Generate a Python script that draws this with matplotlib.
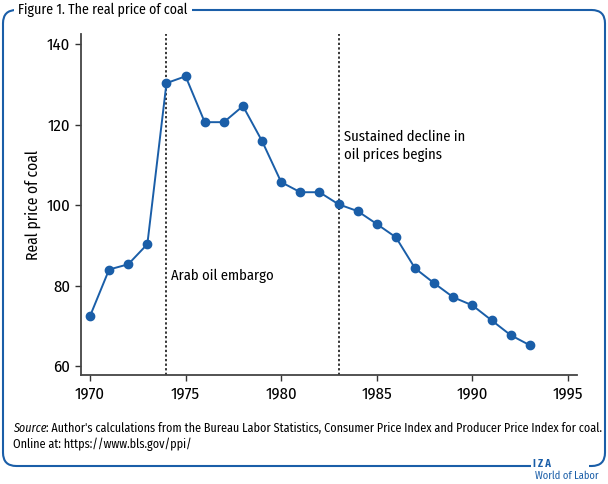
import matplotlib
matplotlib.use("Agg")
import matplotlib.pyplot as plt
from matplotlib.patches import FancyBboxPatch

years = list(range(1970, 1994))
price = [72.4, 84.0, 85.3, 90.3, 130.3, 132.0, 120.6, 120.6, 124.6, 115.9,
         105.7, 103.2, 103.2, 100.2, 98.5, 95.3, 92.0, 84.3, 80.6, 77.1,
         75.1, 71.4, 67.7, 65.2]
events_x = [1974, 1983]
event_labels = ["Arab oil embargo", "Sustained decline in\noil prices begins"]
xticks = [1970, 1975, 1980, 1985, 1990, 1995]
yticks = [60, 80, 100, 120, 140]

plt.rcParams['font.family'] = ['Fira Sans Condensed', 'DejaVu Sans']

blue = "#1a5ea8"
W, H = 608, 484
fig = plt.figure(figsize=(W/100, H/100), dpi=100)
ax = fig.add_axes([81/W, 1 - 375/H, (577-81)/W, (375-34)/H])

ax.plot(years, price, color=blue, lw=1.4, marker="o", ms=6, zorder=3)
for x in events_x:
    ax.axvline(x, color="black", ls=(0, (1.5, 1.5)), lw=1.1, zorder=2)

ax.text(1974.25, 82.5, event_labels[0], fontsize=10.5, ha="left", va="center")
ax.text(1983.3, 110.8, event_labels[1], fontsize=10.5, ha="left", va="bottom", linespacing=1.3)

ax.set_xlim(1969.53, 1995.47)
ax.set_ylim(57.8, 142.5)
ax.set_xticks(xticks)
ax.set_yticks(yticks)
ax.tick_params(labelsize=12, color="#333333", length=4, width=1, pad=4)
ax.set_ylabel("Real price of coal", fontsize=11.2, labelpad=4)
for s in ["top", "right"]:
    ax.spines[s].set_visible(False)
for s in ["left", "bottom"]:
    ax.spines[s].set_color("#444444")
    ax.spines[s].set_linewidth(1.3)

# frame
frame = FancyBboxPatch((3/W, 1 - 466/H), 602/W, 456/H,
                       boxstyle="round,pad=0,rounding_size=0.022",
                       transform=fig.transFigure, fill=False, ec=blue, lw=1.5,
                       mutation_aspect=W/H)
fig.add_artist(frame)
fig.text(18/W, 1 - 10/H, "Figure 1. The real price of coal", fontsize=10,
         ha="left", va="center",
         bbox=dict(fc="white", ec="none", pad=3))
t1 = fig.text(13/W, 1 - 428/H, "Source", fontsize=8.7, ha="left", va="center", style="italic")
fig.canvas.draw()
bb = t1.get_window_extent()
fig.text(bb.x1/W, 1 - 428/H,
         ": Author's calculations from the Bureau Labor Statistics, Consumer Price Index and Producer Price Index for coal.",
         fontsize=8.7, ha="left", va="center")
fig.text(13/W, 1 - 444/H, "Online at: https://www.bls.gov/ppi/", fontsize=8.7, ha="left", va="center")

# gap in bottom border behind the logo
fig.add_artist(plt.Rectangle((531/W, 1 - 469/H), 58/W, 6/H, transform=fig.transFigure,
                             fc="white", ec="none", zorder=5))
fig.text(533/W, 1 - 464/H, "I Z A", fontsize=7.5, color=blue, ha="left", va="center",
         fontweight="bold", zorder=6)
fig.text(535/W, 1 - 476/H, "World of Labor", fontsize=7.5, color=blue, ha="left", va="center",
         zorder=6)

fig.savefig("out.png", dpi=100)
